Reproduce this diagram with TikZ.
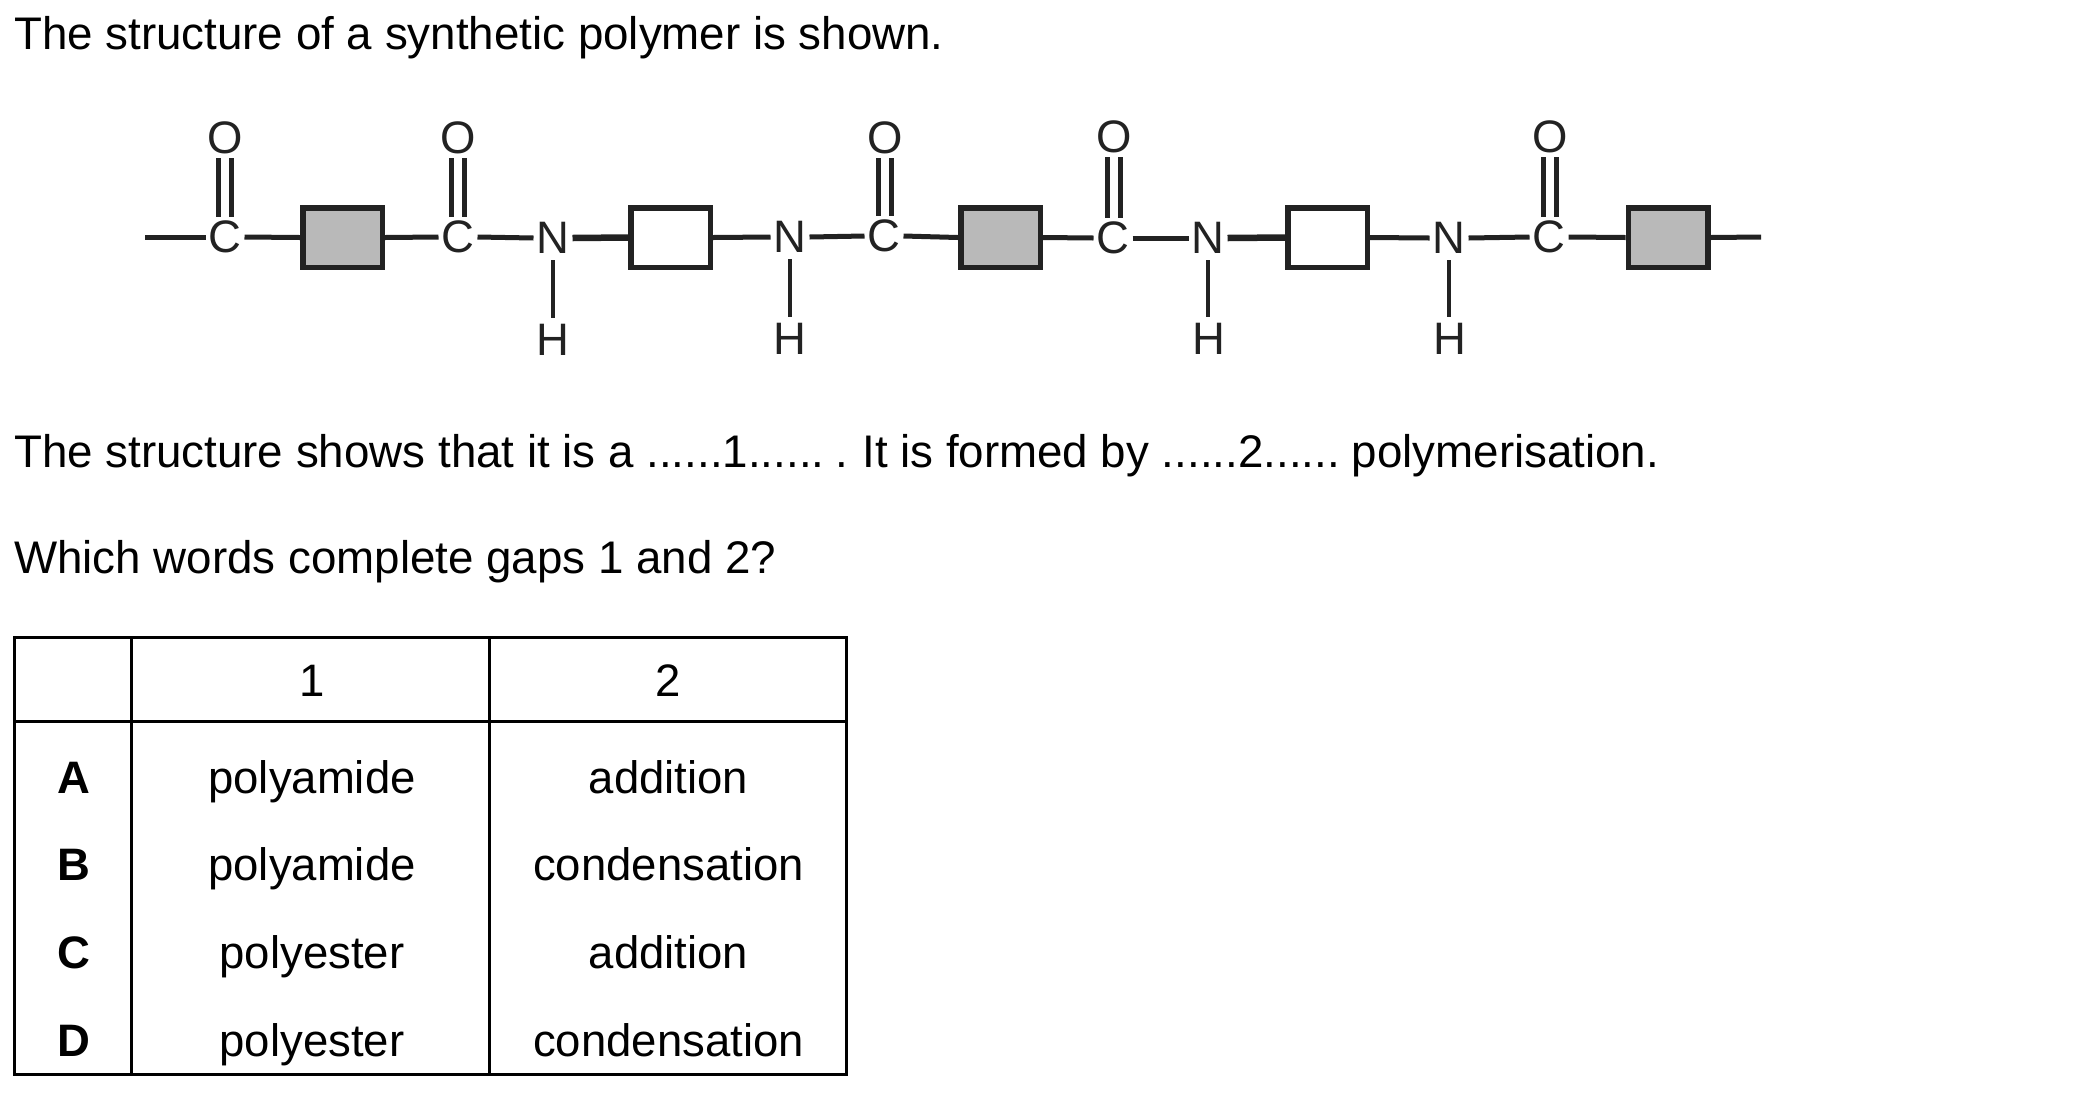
\documentclass[tikz,border=0pt]{standalone}
\usepackage{fontspec}
\setmainfont{Liberation Sans}
\definecolor{ink}{HTML}{222222}
\definecolor{boxgray}{HTML}{B9B9B9}
\tikzset{
  atom/.style={inner sep=0pt,outer sep=0pt,minimum width=39pt,minimum height=40pt,font=\fontsize{45.5}{50}\selectfont,text=ink},
  natom/.style={atom,minimum height=44pt},
  bond/.style={draw=ink,line width=5pt},
  thickbond/.style={draw=ink,line width=6.5pt},
  vbond/.style={draw=ink,line width=4.5pt},
  graybox/.style={draw=ink,line width=5.5pt,fill=boxgray,minimum width=79.5pt,minimum height=59.5pt,inner sep=0pt,outer sep=2.75pt},
  whitebox/.style={graybox,fill=white},
  para/.style={anchor=base west,inner sep=0pt,font=\fontsize{45.7}{50}\selectfont,text=black},
  cell/.style={inner sep=0pt,font=\fontsize{45.5}{50}\selectfont,text=black,anchor=base},
  head/.style={cell,font=\fontsize{45.5}{50}\selectfont\bfseries},
  rule/.style={draw=black,line width=3pt}
}
\begin{document}
\begin{tikzpicture}[x=1pt,y=-1pt]
\useasboundingbox (0,0) rectangle (2100,1096);
\fill[white] (0,0) rectangle (2100,1096);
% paragraphs
\node[para] (t1) at (14,49) {The structure of a synthetic polymer is shown.};
\node[para] (t2) at (14,467) {The structure shows that it is a ......1......\hspace{-6pt} .\hspace{-2.7pt} It is formed by ......2......\hspace{-5pt} polymerisation.};
\node[para] (t3) at (14,573) {Which words complete gaps 1 and 2?};
% atoms
\foreach \n/\x/\y in {c1/225/237,c2/458/237,c3/884/236,c4/1113/238,c5/1549/237}
  \node[atom] (\n) at (\x,\y) {C};
\foreach \n/\x/\y in {o1/225/138,o2/458/138,o3/885/138,o4/1114/137,o5/1550/137}
  \node[atom] (\n) at (\x,\y) {O};
\foreach \n/\x/\y in {n1/553/238,n2/790/237,n3/1208/238,n4/1449/238}
  \node[natom] (\n) at (\x,\y) {N};
\foreach \n/\x/\y in {h1/553/340,h2/790/339,h3/1209/339,h4/1450/339}
  \node[natom] (\n) at (\x,\y) {H};
% boxes
\node[graybox] (g1) at (342.5,237.5) {};
\node[whitebox] (w1) at (670.5,237.5) {};
\node[graybox] (g2) at (1000.5,237.5) {};
\node[whitebox] (w2) at (1327.5,237.5) {};
\node[graybox] (g3) at (1668,237.5) {};
\coordinate (endl) at (145,237);
\coordinate (endr) at (1761,237);
% chain
\draw[bond] (endl) -- (c1.west);
\draw[bond] (c1.east) -- (g1.west);
\draw[bond] (g1.east) -- (c2.west);
\draw[bond] (c2.east) -- (n1.west);
\draw[thickbond] (n1.east) -- (w1.west);
\draw[bond] (w1.east) -- (n2.west);
\draw[bond] (n2.east) -- (c3.west);
\draw[bond] (c3.east) -- (g2.west);
\draw[bond] (g2.east) -- (c4.west);
\draw[bond] (c4.east) -- (n3.west);
\draw[thickbond] (n3.east) -- (w2.west);
\draw[bond] (w2.east) -- (n4.west);
\draw[bond] (n4.east) -- (c5.west);
\draw[bond] (c5.east) -- (g3.west);
\draw[bond] (g3.east) -- (endr);
% double bonds
\foreach \i in {1,...,5}{
  \draw[vbond] ([xshift=-6.5pt]o\i.south) -- ([xshift=-6.5pt]o\i.south |- c\i.north);
  \draw[vbond] ([xshift=6.5pt]o\i.south) -- ([xshift=6.5pt]o\i.south |- c\i.north);
}
% N-H
\foreach \i in {1,...,4}
  \draw[vbond] (n\i.south) -- (n\i.south |- h\i.north);
% table
\coordinate (tl) at (14,637.5);
\coordinate (br) at (846,1074);
\draw[rule] (tl) rectangle (br);
\coordinate (hl) at (14,721);
\coordinate (hr) at (846,721);
\draw[rule] (hl) -- (hr);
\coordinate (c1t) at (131,637.5);
\coordinate (c1b) at (131,1074);
\coordinate (c2t) at (489.5,637.5);
\coordinate (c2b) at (489.5,1074);
\draw[rule] (c1t) -- (c1b);
\draw[rule] (c2t) -- (c2b);
\node[cell] (h-1) at (312,696) {1};
\node[cell] (h-2) at (668,696) {2};
\foreach \n/\lab/\one/\two/\y in {A/A/polyamide/addition/793,B/B/polyamide/condensation/880,C/C/polyester/addition/968,D/D/polyester/condensation/1056}{
  \node[head] (r\n) at (74,\y) {\lab};
  \node[cell] (r\n1) at (312,\y) {\one};
  \node[cell] (r\n2) at (668.5,\y) {\two};
}
\end{tikzpicture}
\end{document}
